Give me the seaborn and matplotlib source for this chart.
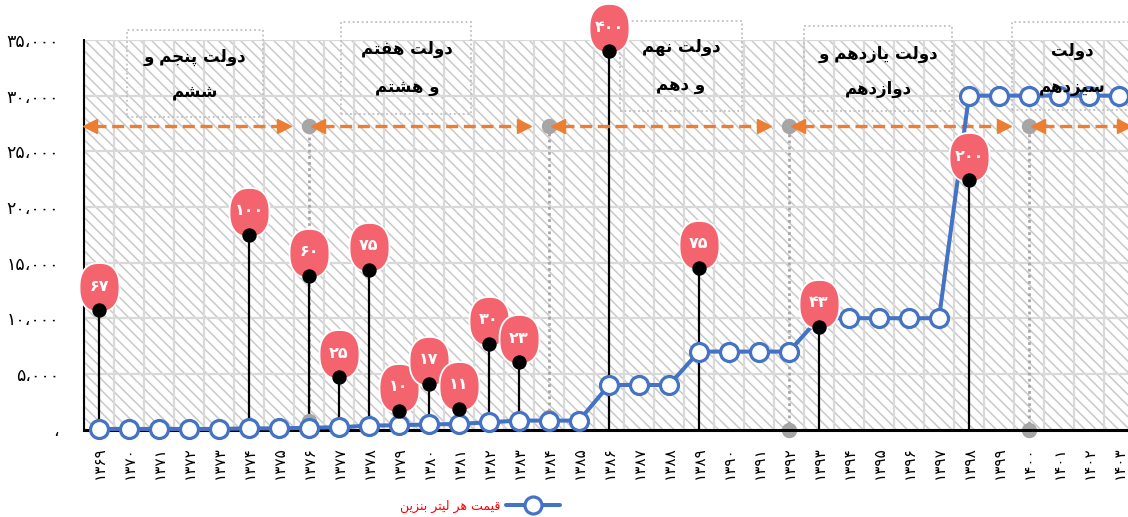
import numpy as np
import pandas as pd
import matplotlib
matplotlib.use("Agg")
import matplotlib.pyplot as plt
import seaborn as sns
from matplotlib.path import Path
from matplotlib.patches import Rectangle
from matplotlib.lines import Line2D

# ---------------- data ----------------
years = list(range(1369, 1404))
price = [50, 50, 50, 50, 50, 100, 100, 160, 200, 350, 385, 450, 500, 650, 800, 800, 800,
         4000, 4000, 4000, 7000, 7000, 7000, 7000, 10000, 10000, 10000, 10000, 10000,
         30000, 30000, 30000, 30000, 30000, 30000]
jump_years = [1369, 1374, 1376, 1377, 1378, 1379, 1380, 1381, 1382, 1383, 1386, 1389, 1393, 1398]
jump_pct = [67, 100, 60, 25, 75, 10, 17, 11, 30, 23, 400, 75, 43, 200]
pin_height = [10700, 17500, 13800, 4700, 14350, 1700, 4100, 1850, 7700, 6050, 34000, 14550, 9250, 22400]
gov_change_years = [1376, 1384, 1392, 1400]
gov_marker_base = [750, 1150, 0, 0]
gov_marker_top = 27300
gov_start = [1368, 1376, 1384, 1392, 1400]
gov_end = [1376, 1384, 1392, 1400, 1404]
gov_names = [("دولت پنجم و", "ششم"), ("دولت هفتم", "و هشتم"), ("دولت نهم", "و دهم"),
             ("دولت یازدهم و", "دوازدهم"), ("دولت", "سیزدهم")]
y_ticks = [0, 5000, 10000, 15000, 20000, 25000, 30000, 35000]
legend_label = "قیمت هر لیتر بنزین"

# layout of the title boxes (x in category index, y in value units)
box_layout = [  # x0, x1, y0, y1, xc, yline1, yline2
    (0.93, 5.47, 28120, 35860, 3.2, 33430, 30370),
    (8.07, 12.4, 28390, 36580, 10.27, 34150, 30820),
    (17.37, 21.43, 28660, 36670, 19.4, 34330, 31000),
    (23.5, 28.43, 28660, 36220, 25.97, 33700, 30640),
    (30.43, 35.2, 28750, 36580, 32.43, 33970, 30820),
]

# ---------------- persian shaping helpers ----------------
FORMS = {  # isolated, final, initial, medial
    'ا': ('\uFE8D', '\uFE8E', None, None),
    'ب': ('\uFE8F', '\uFE90', '\uFE91', '\uFE92'),
    'پ': ('\uFB56', '\uFB57', '\uFB58', '\uFB59'),
    'ت': ('\uFE95', '\uFE96', '\uFE97', '\uFE98'),
    'ج': ('\uFE9D', '\uFE9E', '\uFE9F', '\uFEA0'),
    'د': ('\uFEA9', '\uFEAA', None, None),
    'ر': ('\uFEAD', '\uFEAE', None, None),
    'ز': ('\uFEAF', '\uFEB0', None, None),
    'س': ('\uFEB1', '\uFEB2', '\uFEB3', '\uFEB4'),
    'ش': ('\uFEB5', '\uFEB6', '\uFEB7', '\uFEB8'),
    'ف': ('\uFED1', '\uFED2', '\uFED3', '\uFED4'),
    'ق': ('\uFED5', '\uFED6', '\uFED7', '\uFED8'),
    'ل': ('\uFEDD', '\uFEDE', '\uFEDF', '\uFEE0'),
    'م': ('\uFEE1', '\uFEE2', '\uFEE3', '\uFEE4'),
    'ن': ('\uFEE5', '\uFEE6', '\uFEE7', '\uFEE8'),
    'ه': ('\uFEE9', '\uFEEA', '\uFEEB', '\uFEEC'),
    'و': ('\uFEED', '\uFEEE', None, None),
    'ی': ('\uFBFC', '\uFBFD', '\uFBFE', '\uFBFF'),
}


def shape(s):
    out = []
    n = len(s)
    for k, ch in enumerate(s):
        if ch not in FORMS:
            out.append(ch)
            continue
        f = FORMS[ch]
        prev = s[k - 1] if k > 0 else None
        nxt = s[k + 1] if k < n - 1 else None
        jp = prev in FORMS and FORMS[prev][2] is not None
        jn = f[2] is not None and nxt in FORMS
        if jp and jn:
            out.append(f[3])
        elif jp:
            out.append(f[1])
        elif jn:
            out.append(f[2])
        else:
            out.append(f[0])
    return ''.join(reversed(out))


FA = str.maketrans('0123456789', '۰۱۲۳۴۵۶۷۸۹')


def fa_num(v):
    return str(v).translate(FA)


def fa_tick(v):
    if v == 0:
        return '،'
    return f"{v:,}".replace(',', '،').translate(FA)


# ---------------- style ----------------
sns.set_theme(style="white")
plt.rcParams['font.family'] = ['DejaVu Sans']
plt.rcParams['hatch.linewidth'] = 1.1

BLUE = '#4472C4'
ORANGE = '#ED7D31'
GRAY = '#A6A6A6'
PINK = '#F4646F'
GRID = '#D9D9D9'
PX = 72.0 / 100.0  # points per pixel

fig = plt.figure(figsize=(11.28, 5.17), dpi=100)
ax = fig.add_axes([84 / 1128, (517 - 429.5) / 517, 1050 / 1128, 389.5 / 517])
ax.set_xlim(-0.5, len(years) - 0.5)
ax.set_ylim(0, 35000)

# hatched background
ax.add_patch(Rectangle((0, 0), 1, 1, transform=ax.transAxes, facecolor='white',
                       edgecolor='#C9C9C9', hatch='\\\\\\', lw=0, zorder=0))
ax.set_axisbelow(True)

idx = {y: i for i, y in enumerate(years)}

# main line
df = pd.DataFrame({'x': range(len(years)), 'price': price})
sns.lineplot(data=df, x='x', y='price', ax=ax, color=BLUE, lw=2.9, marker='o',
             markersize=18 * PX, markerfacecolor='white',
             markeredgecolor=BLUE, markeredgewidth=2.3, zorder=4, clip_on=False,
             legend=False)

# stems + dots
jx = [idx[y] for y in jump_years]
ax.vlines(jx, 0, pin_height, color='black', lw=1.6, zorder=3)

# pin (bubble) marker
t = np.linspace(0, 2 * np.pi, 80)
ex = 2.4
cx = np.sign(np.cos(t)) * np.abs(np.cos(t)) ** (2 / ex) * 20
cy = 23 + np.sign(np.sin(t)) * np.abs(np.sin(t)) ** (2 / ex) * 24.5
pin_path = Path(np.column_stack([cx, cy]), closed=False)
pin_ms = 2 * np.max(np.abs(np.column_stack([cx, cy]))) * PX
ax.plot(jx, pin_height, ls='none', marker=pin_path, ms=pin_ms, mfc=PINK, mec='white',
        mew=1.3, zorder=5, clip_on=False)
ax.plot(jx, pin_height, ls='none', marker='o', ms=13 * PX, mfc='black', mec='black',
        zorder=6, clip_on=False)
for xv, hv, pv in zip(jx, pin_height, jump_pct):
    ax.annotate(fa_num(pv), xy=(xv, hv), xytext=(0, 24 * PX), textcoords='offset points',
                ha='center', va='center', color='white', fontsize=11.5, fontweight='bold',
                zorder=7, annotation_clip=False)

# government change markers
gx = [idx[y] for y in gov_change_years]
ax.vlines(gx, gov_marker_base, gov_marker_top, color=GRAY, lw=2, ls=(0, (1, 1.2)), zorder=2)
ax.plot(gx, gov_marker_base, ls='none', marker='o', ms=14 * PX, color=GRAY, zorder=3,
        clip_on=False)
ax.plot(gx, [gov_marker_top] * len(gx), ls='none', marker='o', ms=14 * PX, color=GRAY,
        zorder=3, clip_on=False)

# orange double arrows
head = 0.47
for s, e in zip(gov_start, gov_end):
    left = max(s - years[0] + 0.07, -0.53)
    right = e - years[0] - 0.6
    ax.plot([left + head * 0.8, right - head * 0.8], [gov_marker_top] * 2, color=ORANGE,
            lw=2.4, dashes=(3.6, 1.7), zorder=3, clip_on=False, solid_capstyle='butt')
    ax.plot([left + head / 2], [gov_marker_top], marker='<', ms=14 * PX, color=ORANGE,
            zorder=3, clip_on=False, ls='none')
    ax.plot([right - head / 2], [gov_marker_top], marker='>', ms=14 * PX, color=ORANGE,
            zorder=3, clip_on=False, ls='none')

# title boxes
for (x0, x1, y0, y1, xc, yl1, yl2), (l1, l2) in zip(box_layout, gov_names):
    ax.add_patch(Rectangle((x0, y0), x1 - x0, y1 - y0, fill=False, ec='#BFBFBF',
                           ls=(0, (1, 1.5)), lw=1.3, clip_on=False, zorder=1.5))
    ax.text(xc, yl1, shape(l1), ha='center', va='center', fontsize=12, fontweight='bold',
            color='black', zorder=8)
    ax.text(xc, yl2, shape(l2), ha='center', va='center', fontsize=12, fontweight='bold',
            color='black', zorder=8)

# axes styling
ax.set_xticks(range(len(years)))
ax.set_xticklabels([fa_num(y) for y in years], rotation=90, fontsize=11)
ax.set_xticks(np.arange(-0.5, len(years), 1), minor=True)
ax.tick_params(axis='x', which='major', length=0, pad=12, colors='black')
ax.tick_params(axis='x', which='minor', length=6, width=1.5, direction='out', color='black')
ax.set_yticks(y_ticks)
ax.set_yticklabels([fa_tick(v) for v in y_ticks], fontsize=12.5)
ax.tick_params(axis='y', length=0, pad=18, colors='black')
ax.grid(which='minor', axis='x', color=GRID, lw=1.6)
ax.grid(which='major', axis='y', color=GRID, lw=1.6)
ax.grid(which='major', axis='x', visible=False)
ax.set_xlabel('')
ax.set_ylabel('')
for side in ['top', 'right']:
    ax.spines[side].set_visible(False)
ax.spines['left'].set_color('black')
ax.spines['left'].set_linewidth(1.5)
ax.spines['bottom'].set_color('black')
ax.spines['bottom'].set_linewidth(2.2)
ax.spines['bottom'].set_zorder(3.5)

# legend
handle = Line2D([], [], color=BLUE, lw=2.9, marker='o', ms=17 * PX, mfc='white', mec=BLUE,
                mew=2.3)
leg = fig.legend([handle], [shape(legend_label)], loc='center',
                 bbox_to_anchor=(480 / 1128, 1 - 506 / 517), frameon=False,
                 markerfirst=False, handlelength=4.3, handletextpad=0.4, fontsize=9)
for txt in leg.get_texts():
    txt.set_color('red')

fig.savefig('out.png', dpi=100)
